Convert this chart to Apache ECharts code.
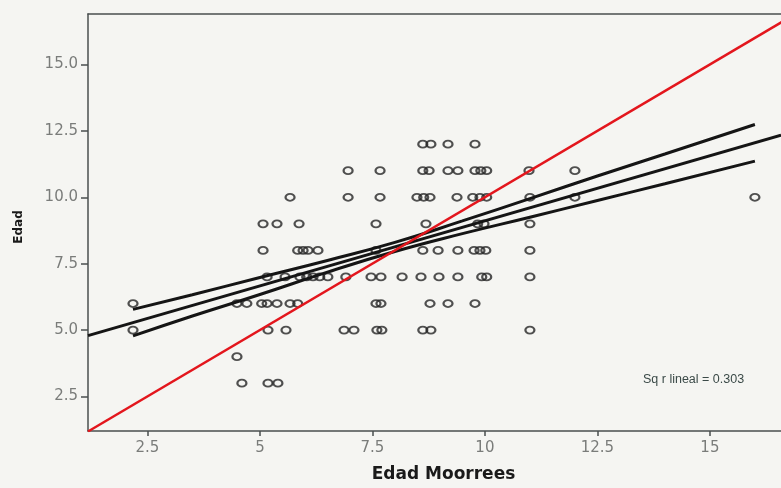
<!DOCTYPE html>
<html>
<head>
<meta charset="utf-8">
<script src="https://cdn.jsdelivr.net/npm/echarts@6/dist/echarts.min.js"></script>
<style>
html, body { margin: 0; padding: 0; background: #f5f5f2; }
#chart { width: 781px; height: 488px; }
</style>
</head>
<body>
<div id="chart"></div>
<script>
// Edad Moorrees values for each row of Edad
var edad12 = [8.62, 8.80, 9.18, 9.78];
var edad11 = [6.96, 7.67, 8.62, 8.76, 9.18, 9.40, 9.78, 9.91, 10.04, 10.98, 12.0];
var edad10 = [5.67, 6.96, 7.67, 8.49, 8.64, 8.78, 9.38, 9.73, 9.89, 10.04, 11.0, 12.0, 16.0];
var edad9 = [5.07, 5.38, 5.87, 7.58, 8.69, 9.84, 9.98, 11.0];
var edad8 = [5.07, 5.84, 5.96, 6.07, 6.29, 7.58, 8.62, 8.96, 9.40, 9.76, 9.89, 10.02, 11.0];
var edad7 = [5.16, 5.56, 5.89, 6.04, 6.18, 6.33, 6.51, 6.91, 7.47, 7.69, 8.16, 8.58, 8.98, 9.40, 9.93, 10.04, 11.0];
var edad6 = [2.18, 4.49, 4.71, 5.04, 5.16, 5.38, 5.67, 5.84, 7.58, 7.69, 8.78, 9.18, 9.78];
var edad5 = [2.18, 5.18, 5.58, 6.87, 7.09, 7.60, 7.71, 8.62, 8.80, 11.0];
var edad4 = [4.49];
var edad3 = [4.60, 5.18, 5.40];

// regression line and its confidence band
var fitX = [1.18, 16.58];
var fitY = [4.79, 12.34];
var bandX = [2.18, 3.5, 5, 6.5, 8, 9.5, 11, 12.5, 14, 16];
var bandUpper = [5.78, 6.33, 6.98, 7.62, 8.30, 9.11, 9.95, 10.80, 11.63, 12.74];
var bandLower = [4.78, 5.53, 6.34, 7.18, 7.96, 8.63, 9.25, 9.88, 10.51, 11.36];

// reference line y = x
var refX = [1.18, 16.9];

var xTicks = [2.5, 5, 7.5, 10, 12.5, 15];
var yTicks = [2.5, 5, 7.5, 10, 12.5, 15];

var rows = { 12: edad12, 11: edad11, 10: edad10, 9: edad9, 8: edad8, 7: edad7, 6: edad6, 5: edad5, 4: edad4, 3: edad3 };
var points = [];
Object.keys(rows).forEach(function (k) {
    rows[k].forEach(function (x) { points.push([x, Number(k)]); });
});

function pairs(xs, ys) {
    return xs.map(function (x, i) { return [x, ys[i]]; });
}

var axisColor = '#4a4f4f';
var labelFont = { fontFamily: 'DejaVu Sans', fontSize: 15, color: '#7a7c7a' };

var myChart = echarts.init(document.getElementById('chart'));

var option = {
    backgroundColor: '#f5f5f2',
    animation: false,
    grid: { left: 88, top: 14, right: 0, bottom: 54 },
    xAxis: [
        {
            type: 'value',
            min: 1.18,
            max: 16.58,
            name: 'Edad Moorrees',
            nameLocation: 'middle',
            nameGap: 35,
            nameTextStyle: {
                fontFamily: 'DejaVu Sans', fontWeight: 'bold', fontSize: 17, color: '#1a1a1a',
                padding: [0, 0, 0, 18]
            },
            splitLine: { show: false },
            axisLine: { lineStyle: { color: axisColor, width: 1.5 } },
            axisTick: { show: true, customValues: xTicks, length: 5, lineStyle: { color: axisColor, width: 1.5 } },
            axisLabel: Object.assign({ customValues: xTicks, margin: 10 }, labelFont)
        },
        {
            // top frame line
            type: 'value',
            position: 'top',
            min: 1.18,
            max: 16.58,
            splitLine: { show: false },
            axisLine: { show: true, lineStyle: { color: axisColor, width: 1.5 } },
            axisTick: { show: false },
            axisLabel: { show: false }
        }
    ],
    yAxis: {
        type: 'value',
        min: 1.2,
        max: 16.9,
        splitLine: { show: false },
        axisLine: { show: true, lineStyle: { color: axisColor, width: 1.5 } },
        axisTick: { show: true, customValues: yTicks, length: 7, lineStyle: { color: axisColor, width: 1.5 } },
        axisLabel: Object.assign({
            customValues: yTicks,
            margin: 10,
            formatter: function (v) { return v.toFixed(1); }
        }, labelFont)
    },
    graphic: [
        {
            type: 'text',
            x: 19,
            y: 227,
            rotation: Math.PI / 2,
            style: {
                text: 'Edad',
                font: 'bold 12px "DejaVu Sans"',
                fill: '#1a1a1a',
                textAlign: 'center',
                textVerticalAlign: 'middle'
            }
        },
        {
            type: 'text',
            left: 643,
            top: 373,
            style: {
                text: 'Sq r lineal = 0.303',
                font: '12.5px "Liberation Sans"',
                fill: '#3b4a48'
            }
        }
    ],
    series: [
        {
            type: 'scatter',
            data: points,
            symbol: 'path://M0,5 A5,5 0 1,1 10,5 A5,5 0 1,1 0,5 Z',
            symbolSize: [9, 7],
            itemStyle: { color: 'transparent', borderColor: '#262626', borderWidth: 2 }
        },
        {
            type: 'line',
            data: pairs(fitX, fitY),
            showSymbol: false,
            lineStyle: { color: '#151515', width: 3 }
        },
        {
            type: 'line',
            data: pairs(bandX, bandUpper),
            smooth: true,
            showSymbol: false,
            lineStyle: { color: '#151515', width: 3 }
        },
        {
            type: 'line',
            data: pairs(bandX, bandLower),
            smooth: true,
            showSymbol: false,
            lineStyle: { color: '#151515', width: 3 }
        },
        {
            type: 'line',
            data: pairs(refX, refX),
            showSymbol: false,
            lineStyle: { color: '#e3161d', width: 2.5 }
        }
    ]
};

myChart.setOption(option);
</script>
</body>
</html>
